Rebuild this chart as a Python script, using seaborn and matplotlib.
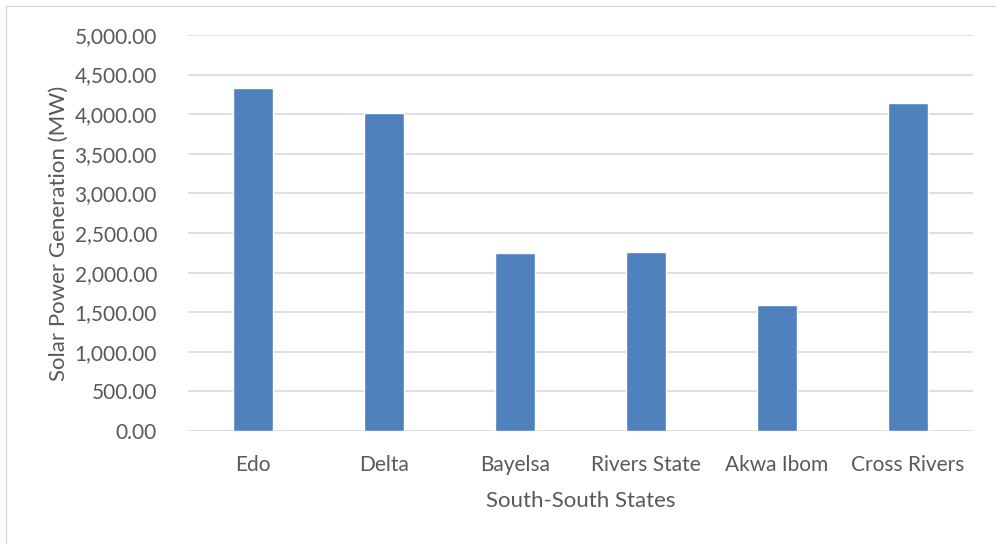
import pandas as pd
import matplotlib.pyplot as plt
import matplotlib.ticker as mticker
from matplotlib.patches import Rectangle
import seaborn as sns

states = ['Edo', 'Delta', 'Bayelsa', 'Rivers State', 'Akwa Ibom', 'Cross Rivers']
generation_mw = [4330, 4010, 2250, 2265, 1585, 4145]

df = pd.DataFrame({'State': states, 'Generation': generation_mw})

sns.set_style('white')
plt.rcParams['font.family'] = ['Lato', 'DejaVu Sans']
text_color = '#595959'

fig = plt.figure(figsize=(9.96, 5.44), dpi=100)
ax = fig.add_axes([0.1883, 0.2077, 0.789, 0.728])

sns.barplot(data=df, x='State', y='Generation', color='#4F81BD', saturation=1,
            width=0.31, ax=ax, zorder=3)

ax.set_ylim(0, 5000)
ax.set_yticks(range(0, 5001, 500))
ax.yaxis.set_major_formatter(mticker.StrMethodFormatter('{x:,.2f}'))
ax.grid(axis='y', color='#D9D9D9', linewidth=1.2, zorder=0)
ax.grid(axis='x', visible=False)
for s in ax.spines.values():
    s.set_visible(False)
ax.tick_params(axis='both', length=0, labelsize=15, labelcolor=text_color)
ax.tick_params(axis='y', pad=22)
ax.tick_params(axis='x', pad=17)

ax.set_xlabel('South-South States', fontsize=16, color=text_color, labelpad=12)
ax.set_ylabel('Solar Power Generation (MW)', fontsize=16, color=text_color, labelpad=4)

fig.patches.append(Rectangle((6 / 996, -0.1), 1.2, (544 - 6) / 544 + 0.1,
                             transform=fig.transFigure, fill=False,
                             edgecolor='#D9D9D9', linewidth=1))

fig.savefig('out.png', dpi=100)
